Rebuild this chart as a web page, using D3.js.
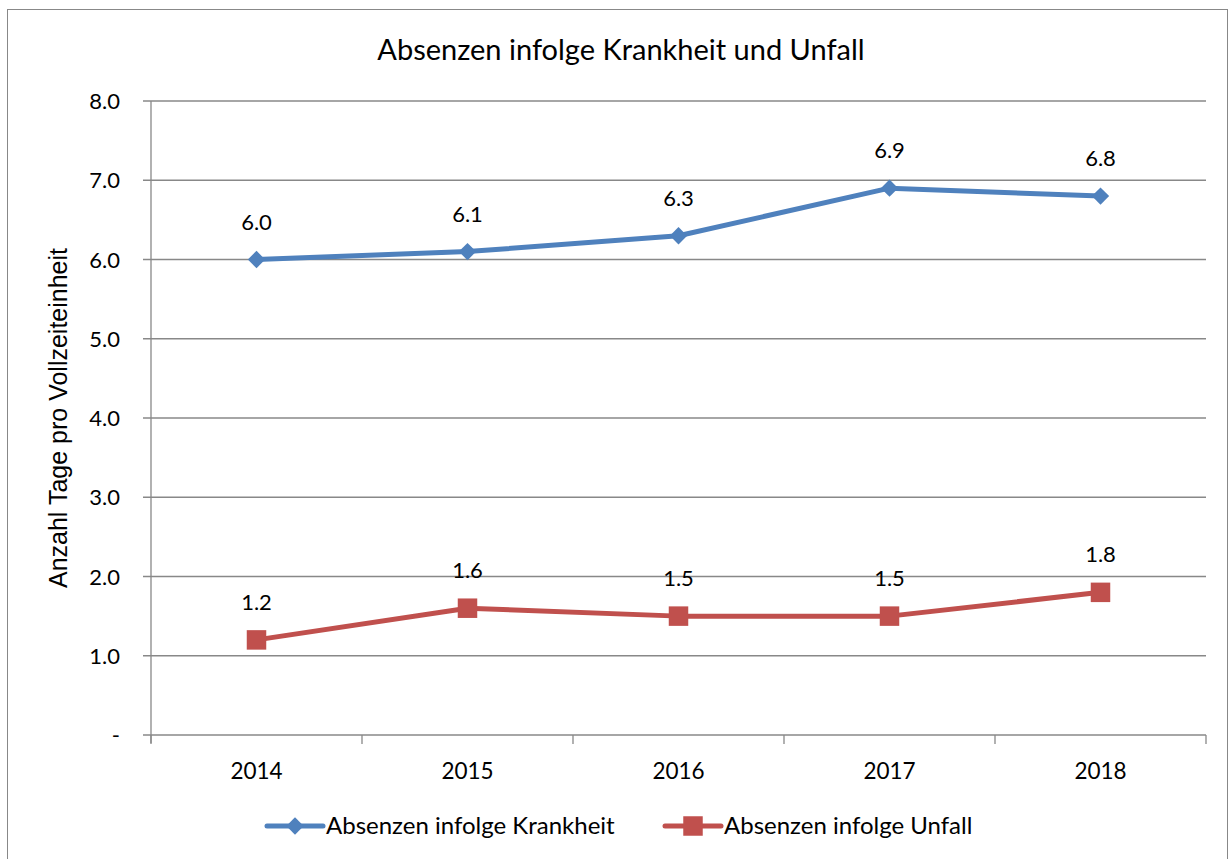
<!DOCTYPE html>
<html>
<head>
<meta charset="utf-8">
<script src="https://d3js.org/d3.v7.min.js"></script>
<style>
    body { margin: 0; background: #fff; }
    text { font-family: Lato, "Open Sans", sans-serif; fill: #000; }
</style>
</head>
<body>
<div id="chart"></div>
<script>
// chart data
const years = ["2014", "2015", "2016", "2017", "2018"];
const krankheit = [6.0, 6.1, 6.3, 6.9, 6.8];
const unfall = [1.2, 1.6, 1.5, 1.5, 1.8];
const yTicks = [0, 1, 2, 3, 4, 5, 6, 7, 8];
const seriesNames = ["Absenzen infolge Krankheit", "Absenzen infolge Unfall"];

const WIDTH = 1230, HEIGHT = 859;
const PLOT = { left: 151, right: 1206, top: 101, bottom: 735 };
const BLUE = "#4F81BD", RED = "#C0504D", GRID = "#888888";

let svg = d3.select("#chart").append("svg")
    .attr("width", WIDTH)
    .attr("height", HEIGHT);

// outer border
svg.append("rect")
    .attr("x", 7.5).attr("y", 9.5)
    .attr("width", 1220).attr("height", 860)
    .attr("fill", "none")
    .attr("stroke", GRID)
    .attr("stroke-width", 1);

svg.append("text")
    .attr("x", 621).attr("y", 60)
    .attr("text-anchor", "middle")
    .style("font-size", "29px")
    .text("Absenzen infolge Krankheit und Unfall");

let x = d3.scaleBand().domain(years).range([PLOT.left, PLOT.right]);
let y = d3.scaleLinear().domain([0, 8]).range([PLOT.bottom, PLOT.top]);

// gridlines
svg.append("g")
    .selectAll("line")
    .data(yTicks)
    .enter().append("line")
    .attr("x1", PLOT.left - 8).attr("x2", PLOT.right)
    .attr("y1", d => y(d)).attr("y2", d => y(d))
    .attr("stroke", GRID).attr("stroke-width", 1.3);

// y axis line
svg.append("line")
    .attr("x1", PLOT.left).attr("x2", PLOT.left)
    .attr("y1", PLOT.top).attr("y2", PLOT.bottom + 8)
    .attr("stroke", GRID).attr("stroke-width", 1.3);

// y tick labels
svg.append("g")
    .selectAll("text")
    .data(yTicks)
    .enter().append("text")
    .attr("x", PLOT.left - 31)
    .attr("y", d => y(d) + 8)
    .attr("text-anchor", "end")
    .style("font-size", "22px")
    .text(d => d === 0 ? "-" : d.toFixed(1));

// x ticks between categories
let xEdges = years.map(d => x(d)).concat([PLOT.right]);
svg.append("g")
    .selectAll("line")
    .data(xEdges)
    .enter().append("line")
    .attr("x1", d => d).attr("x2", d => d)
    .attr("y1", PLOT.bottom).attr("y2", PLOT.bottom + 9)
    .attr("stroke", GRID).attr("stroke-width", 1.3);

svg.append("g")
    .selectAll("text")
    .data(years)
    .enter().append("text")
    .attr("x", d => x(d) + x.bandwidth() / 2)
    .attr("y", 779)
    .attr("text-anchor", "middle")
    .style("font-size", "22.5px")
    .text(d => d);

// y axis title
svg.append("text")
    .attr("transform", "translate(67," + ((PLOT.top + PLOT.bottom) / 2) + ") rotate(-90)")
    .attr("text-anchor", "middle")
    .style("font-family", "'Liberation Sans', Arial, sans-serif")
    .style("font-size", "25px")
    .text("Anzahl Tage pro Vollzeiteinheit");

const cx = d => x(d) + x.bandwidth() / 2;
let line = d3.line()
    .x((d, i) => cx(years[i]))
    .y(d => y(d));

function drawSeries(values, color, rot, size) {
    let g = svg.append("g");
    g.append("path")
        .datum(values)
        .attr("d", line)
        .attr("fill", "none")
        .attr("stroke", color)
        .attr("stroke-width", 5)
        .attr("stroke-linejoin", "round");
    g.selectAll("path.m")
        .data(values)
        .enter().append("path")
        .attr("class", "m")
        .attr("d", d3.symbol().type(d3.symbolSquare).size(size))
        .attr("transform", (d, i) => "translate(" + cx(years[i]) + "," + y(d) + ") rotate(" + rot + ")")
        .attr("fill", color);
    g.selectAll("text")
        .data(values)
        .enter().append("text")
        .attr("x", (d, i) => cx(years[i]))
        .attr("y", d => y(d) - 30)
        .attr("text-anchor", "middle")
        .style("font-size", "22px")
        .text(d => d.toFixed(1));
}

drawSeries(krankheit, BLUE, 45, 150);
drawSeries(unfall, RED, 0, 380);

// legend
let legend = [
    { name: seriesNames[0], color: BLUE, rot: 45, size: 150, x: 267 },
    { name: seriesNames[1], color: RED, rot: 0, size: 380, x: 665 }
];
let lg = svg.append("g").selectAll("g")
    .data(legend)
    .enter().append("g")
    .attr("transform", d => "translate(" + d.x + ",826)");
lg.append("line")
    .attr("x1", 0).attr("x2", 56)
    .attr("stroke", d => d.color)
    .attr("stroke-width", 5)
    .attr("stroke-linecap", "round");
lg.append("path")
    .attr("d", d => d3.symbol().type(d3.symbolSquare).size(d.size)())
    .attr("transform", d => "translate(28,0) rotate(" + d.rot + ")")
    .attr("fill", d => d.color);
lg.append("text")
    .attr("x", 59).attr("y", 8)
    .style("font-size", "24px")
    .text(d => d.name);
</script>
</body>
</html>
